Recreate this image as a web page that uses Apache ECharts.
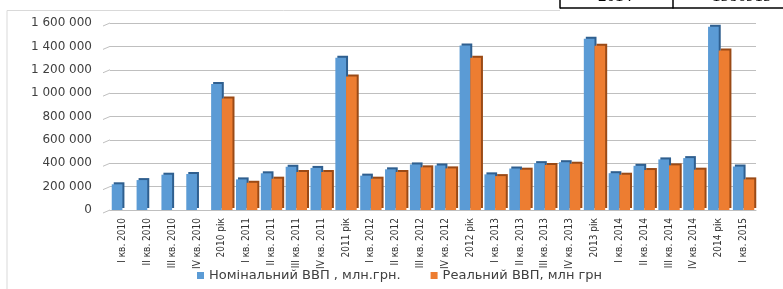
<!DOCTYPE html>
<html>
<head>
<meta charset="utf-8">
<script src="https://cdn.jsdelivr.net/npm/echarts@6/dist/echarts.min.js"></script>
<style>
  html, body { margin: 0; padding: 0; background: #fff; }
  #chart { width: 783px; height: 289px; }
</style>
</head>
<body>
<div id="chart"></div>
<script>
// quarters and yearly totals, UAH mln
var categories = [
  'I кв. 2010', 'II кв. 2010', 'III кв. 2010', 'IV кв. 2010', '2010 рік',
  'I кв. 2011', 'II кв. 2011', 'III кв. 2011', 'IV кв. 2011', '2011 рік',
  'I кв. 2012', 'II кв. 2012', 'III кв. 2012', 'IV кв. 2012', '2012 рік',
  'I кв. 2013', 'II кв. 2013', 'III кв. 2013', 'IV кв. 2013', '2013 рік',
  'I кв. 2014', 'II кв. 2014', 'III кв. 2014', 'IV кв. 2014', '2014 рік',
  'I кв. 2015'
];
var nominal = [
  220000, 256000, 302000, 308000, 1079000,
  262000, 314000, 370000, 360000, 1302000,
  294000, 348000, 390000, 381000, 1408000,
  305000, 355000, 401000, 409000, 1465000,
  315000, 378000, 433000, 444000, 1567000,
  372000
];
var real = [
  null, null, null, null, 955000,
  233000, 268000, 325000, 325000, 1142000,
  268000, 325000, 365000, 356000, 1302000,
  290000, 345000, 385000, 396000, 1406000,
  302000, 342000, 382000, 345000, 1365000,
  262000
];
var yTicks = { min: 0, max: 1600000, step: 200000 };
var seriesNames = ['Номінальний ВВП , млн.грн.', 'Реальний ВВП, млн грн'];

var chart = echarts.init(document.getElementById('chart'));

function fmt(v) {
  return String(v).replace(/\B(?=(\d{3})+(?!\d))/g, ' ');
}

// page frame + the cut-off table row above the chart
var frame = [
  { type: 'polyline', shape: { points: [[7, 289], [7, 10.5], [560, 10.5]] },
    style: { stroke: '#D9D9D9', lineWidth: 1, fill: null } },
  { type: 'line', shape: { x1: 560, y1: 8, x2: 783, y2: 8 }, style: { stroke: '#000', lineWidth: 1.5 } },
  { type: 'line', shape: { x1: 560, y1: 0, x2: 560, y2: 8.5 }, style: { stroke: '#000', lineWidth: 1.5 } },
  { type: 'line', shape: { x1: 673, y1: 0, x2: 673, y2: 8.5 }, style: { stroke: '#000', lineWidth: 1.5 } },
  { type: 'text', left: 598, top: -12,
    style: { text: '2014', font: '17px "Liberation Serif"', fill: '#000' } },
  { type: 'text', left: 712, top: -12,
    style: { text: '1586915', font: '17px "Liberation Serif"', fill: '#000' } }
];

var option = {
  animation: false,
  backgroundColor: '#fff',
  grid: { left: 110, right: 27, top: 23, bottom: 79, containLabel: false },
  legend: {
    left: 197,
    top: 269,
    padding: 0,
    icon: 'rect',
    itemWidth: 7,
    itemHeight: 7,
    itemGap: 30,
    textStyle: { fontFamily: 'DejaVu Sans', fontSize: 13, color: '#404040' },
    data: seriesNames
  },
  xAxis: {
    type: 'category',
    data: categories,
    axisLine: { lineStyle: { color: '#BFBFBF' } },
    axisTick: { show: false },
    axisLabel: {
      interval: 0,
      rotate: 90,
      margin: 8,
      fontFamily: 'DejaVu Sans Condensed',
      fontSize: 10,
      color: '#333'
    }
  },
  yAxis: {
    type: 'value',
    min: yTicks.min,
    max: yTicks.max,
    interval: yTicks.step,
    axisLine: { show: false },
    axisTick: { show: false },
    splitLine: { lineStyle: { color: '#BFBFBF', width: 1 } },
    axisLabel: {
      margin: 18,
      fontFamily: 'DejaVu Sans',
      fontSize: 12,
      color: '#404040',
      formatter: fmt
    }
  },
  series: [
    {
      name: seriesNames[0],
      type: 'bar',
      data: nominal,
      barGap: '0%',
      barCategoryGap: '14%',
      itemStyle: {
        color: '#5B9BD5',
        shadowColor: '#2F5F8F',
        shadowBlur: 0,
        shadowOffsetX: 2,
        shadowOffsetY: -2
      }
    },
    {
      name: seriesNames[1],
      type: 'bar',
      data: real,
      itemStyle: {
        color: '#ED7D31',
        shadowColor: '#9A4A16',
        shadowBlur: 0,
        shadowOffsetX: 2,
        shadowOffsetY: -2
      }
    }
  ],
  graphic: frame
};

chart.setOption(option);

// slanted wall/floor stubs at the left end of each grid line
var stubs = [];
for (var v = yTicks.min; v <= yTicks.max; v += yTicks.step) {
  var y = chart.convertToPixel({ yAxisIndex: 0 }, v);
  stubs.push({ type: 'line', shape: { x1: 103, y1: y + 3, x2: 110, y2: y },
    style: { stroke: '#BFBFBF', lineWidth: 1 } });
}
chart.setOption({ graphic: frame.concat(stubs) });
</script>
</body>
</html>
